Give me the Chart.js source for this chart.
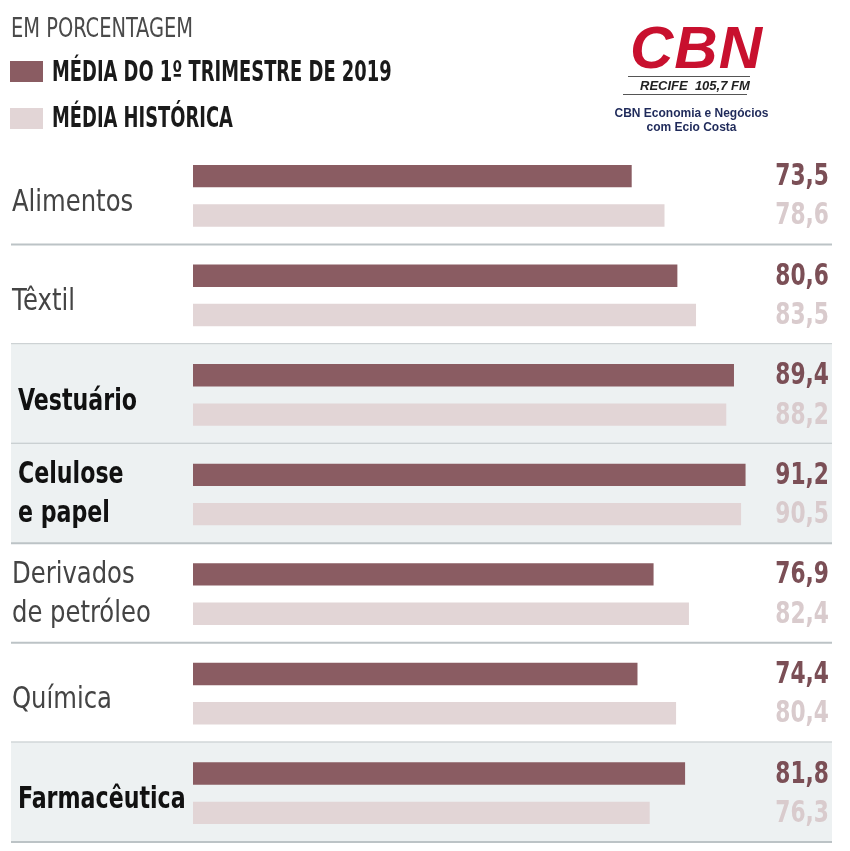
<!DOCTYPE html>
<html>
<head>
<meta charset="utf-8">
<script src="https://cdn.jsdelivr.net/npm/chart.js@4"></script>
<style>
  body { margin: 0; background: #fff; }
  #wrap { position: relative; width: 850px; height: 851px; overflow: hidden; }
  #chart { position: absolute; left: 0; top: 0; }
  .hd { position: absolute; font-family: "DejaVu Sans Condensed", "Liberation Sans Narrow", sans-serif; white-space: nowrap; transform-origin: 0 50%; }
  .sw { position: absolute; width: 33px; height: 21px; }
  .logo { position: absolute; font-family: "Liberation Sans", Arial, sans-serif; white-space: nowrap; }
</style>
</head>
<body>
<div id="wrap">
  <canvas id="chart" width="850" height="851"></canvas>
  <div class="hd" style="left:11px;top:13px;font-size:26px;color:#4a4a4a;transform:scaleX(0.83);">EM PORCENTAGEM</div>
  <div class="sw" style="left:10px;top:61px;background:#8a5c62;"></div>
  <div class="hd" style="left:52px;top:55px;font-size:28px;font-weight:bold;color:#1a1a1a;transform:scaleX(0.71);">MÉDIA DO 1º TRIMESTRE DE 2019</div>
  <div class="sw" style="left:10px;top:108px;background:#e2d5d6;"></div>
  <div class="hd" style="left:52px;top:101px;font-size:28px;font-weight:bold;color:#1a1a1a;transform:scaleX(0.71);">MÉDIA HISTÓRICA</div>

  <div class="logo" style="left:630px;top:13px;font-size:60px;font-weight:900;font-style:italic;color:#c8102e;letter-spacing:1px;">CBN</div>
  <div style="position:absolute;left:628px;top:76px;width:122px;height:1px;background:#555;"></div>
  <div class="logo" style="left:640px;top:78px;font-size:13px;font-weight:bold;font-style:italic;color:#222;">RECIFE&nbsp;&nbsp;105,7 FM</div>
  <div style="position:absolute;left:623px;top:94px;width:124px;height:1px;background:#555;"></div>
  <div class="logo" style="left:611px;top:106px;width:161px;text-align:center;font-size:12px;font-weight:bold;color:#1f2a5a;line-height:14px;">CBN Economia e Negócios<br>com Ecio Costa</div>
</div>
<script>
// categories and values (porcentagem)
const categories = [
  "Alimentos",
  "Têxtil",
  "Vestuário",
  ["Celulose", "e papel"],
  ["Derivados", "de petróleo"],
  "Química",
  "Farmacêutica",
];
const media2019 = [73.5, 80.6, 89.4, 91.2, 76.9, 74.4, 81.8];
const mediaHistorica = [78.6, 83.5, 88.2, 90.5, 82.4, 80.4, 76.3];
// rows shown in bold on a gray band
const destaque = [false, false, true, true, false, false, true];

const FONT = "'DejaVu Sans Condensed', 'Liberation Sans Narrow', sans-serif";
const darkColor = "#8a5c62";
const lightColor = "#e2d5d6";

// gray bands + separator lines behind the bars
const rowsPlugin = {
  id: "rows",
  beforeDraw(chart) {
    const ctx = chart.ctx;
    const y = chart.scales.y;
    const step = y.getPixelForValue(1) - y.getPixelForValue(0);
    ctx.save();
    categories.forEach((c, i) => {
      const mid = y.getPixelForValue(i);
      const top = mid - step / 2 - 1;
      const bottom = mid + step / 2 - 1;
      if (destaque[i]) {
        ctx.fillStyle = "#edf1f2";
        ctx.fillRect(11, top, 821, bottom - top);
      }
      ctx.strokeStyle = "#bcc3c6";
      ctx.lineWidth = 2;
      ctx.beginPath();
      ctx.moveTo(11, bottom);
      ctx.lineTo(832, bottom);
      ctx.stroke();
    });
    ctx.restore();
  },
};

// category names on the left (condensed look)
const namesPlugin = {
  id: "names",
  afterDatasetsDraw(chart) {
    const ctx = chart.ctx;
    const y = chart.scales.y;
    categories.forEach((c, i) => {
      const lines = Array.isArray(c) ? c : [c];
      const bold = destaque[i];
      const mid = y.getPixelForValue(i);
      lines.forEach((txt, k) => {
        let ty;
        if (lines.length === 1) ty = mid + 7;
        else ty = mid + (k === 0 ? -19 : 20);
        ctx.save();
        ctx.translate(bold ? 18 : 12, ty);
        ctx.scale(bold ? 0.82 : 0.9, 1);
        ctx.font = (bold ? "bold " : "") + "30px " + FONT;
        ctx.textAlign = "left";
        ctx.textBaseline = "middle";
        ctx.fillStyle = bold ? "#111" : "#444";
        ctx.fillText(txt, 0, 0);
        ctx.restore();
      });
    });
  },
};

// numbers on the right
const valuesPlugin = {
  id: "values",
  afterDatasetsDraw(chart) {
    const ctx = chart.ctx;
    const colors = ["#7b4f56", "#d9cbcd"];
    chart.data.datasets.forEach((ds, di) => {
      chart.getDatasetMeta(di).data.forEach((bar, i) => {
        ctx.save();
        ctx.translate(829, bar.y + 1);
        ctx.scale(0.78, 1);
        ctx.font = "bold 31px " + FONT;
        ctx.textAlign = "right";
        ctx.textBaseline = "middle";
        ctx.fillStyle = colors[di];
        ctx.fillText(ds.data[i].toFixed(1).replace(".", ","), 0, 0);
        ctx.restore();
      });
    });
  },
};

const ctx = document.getElementById("chart").getContext("2d");
const myChart = new Chart(ctx, {
  type: "bar",
  data: {
    labels: categories,
    datasets: [
      {
        label: "MÉDIA DO 1º TRIMESTRE DE 2019",
        data: media2019,
        backgroundColor: darkColor,
        categoryPercentage: 0.79,
        barPercentage: 0.57,
      },
      {
        label: "MÉDIA HISTÓRICA",
        data: mediaHistorica,
        backgroundColor: lightColor,
        categoryPercentage: 0.79,
        barPercentage: 0.57,
      },
    ],
  },
  options: {
    indexAxis: "y",
    responsive: false,
    animation: false,
    devicePixelRatio: 1,
    layout: { padding: { left: 12, right: 80, top: 146, bottom: 8 } },
    plugins: { legend: { display: false }, tooltip: { enabled: false } },
    scales: {
      x: { display: false, min: 5.3, max: 95 },
      y: {
        grid: { display: false },
        border: { display: false },
        ticks: { display: false },
        afterFit: (scale) => {
          scale.width = 181;
          scale.paddingTop = 0;
          scale.paddingBottom = 0;
        },
      },
    },
  },
  plugins: [rowsPlugin, namesPlugin, valuesPlugin],
});
</script>
</body>
</html>
